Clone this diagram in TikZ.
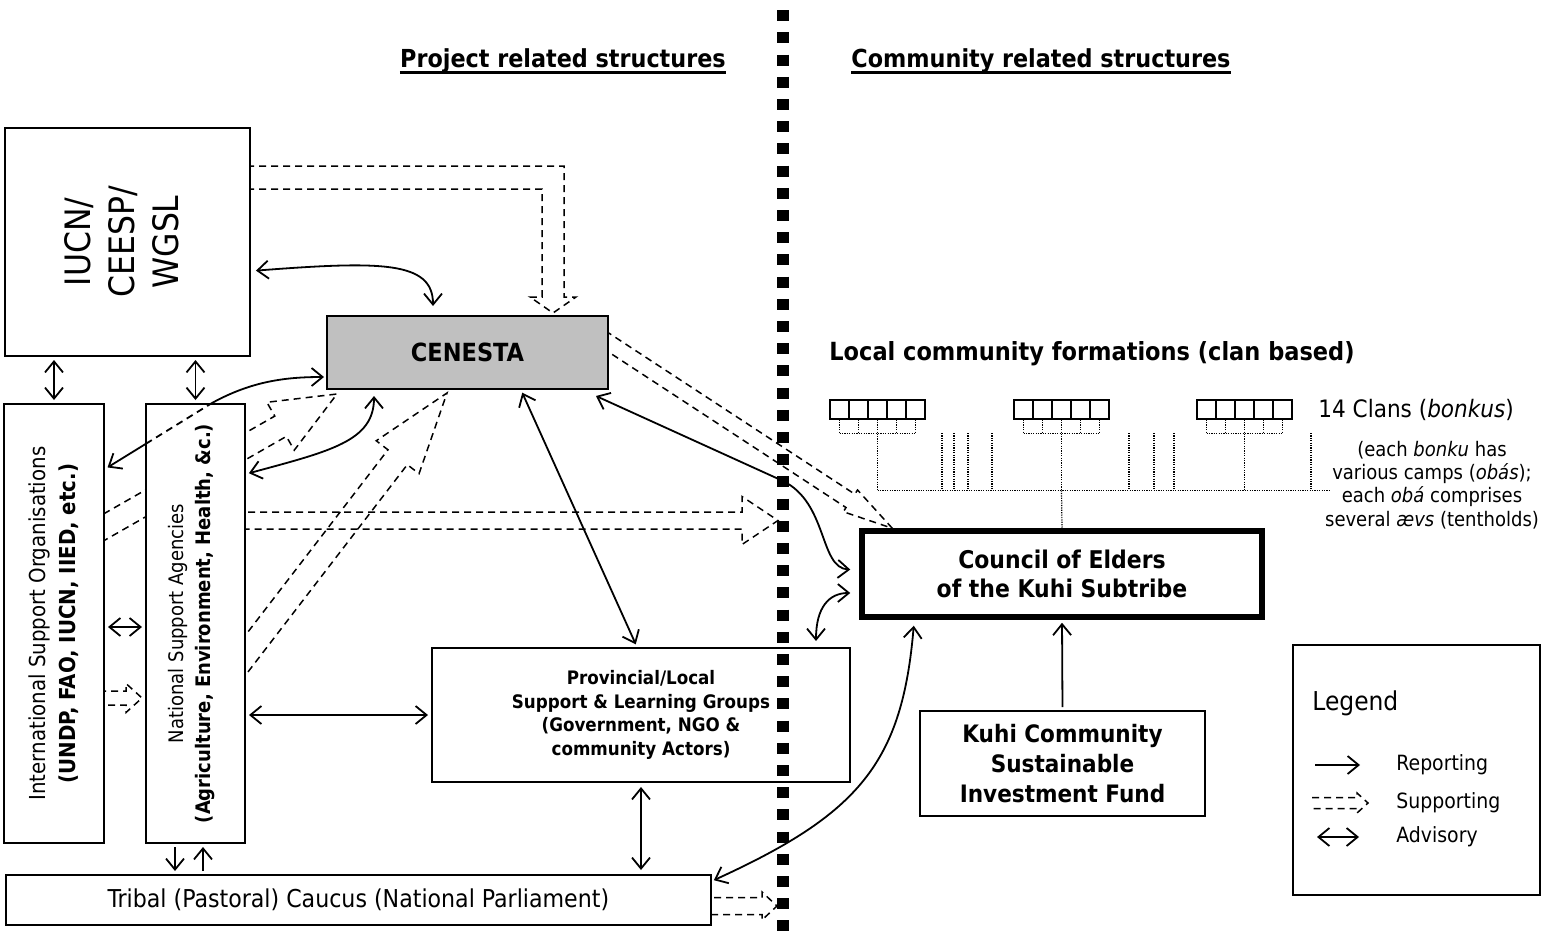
\documentclass[tikz,border=0pt]{standalone}
\usepackage{fontspec}
\setmainfont{DejaVu Sans Condensed}
\usetikzlibrary{arrows.meta,calc,backgrounds}
\definecolor{cengray}{HTML}{C0C0C0}

\tikzset{
  box/.style={draw, line width=1pt, fill=white, inner sep=0pt, align=center},
  rep/.style={line width=0.9pt, shorten >=1.5pt, shorten <=1.5pt},
  supp/.style={line width=0.75pt, dash pattern=on 3.5pt off 2.5pt},
  tree/.style={line width=0.6pt, dash pattern=on 0.6pt off 0.6pt},
  lab/.style={inner sep=0pt, align=center},
}

% hollow dashed "supporting" arrow: start, tip, shaft half width, head half width, head length
\newcommand{\supparrow}[5]{%
  \coordinate (sa) at (#1);
  \coordinate (sb) at (#2);
  \coordinate (sh) at ($(sb)!#5!(sa)$);
  \draw[supp] ($(sa)!#3!90:(sb)$) -- ($(sh)!#3!-90:(sa)$) -- ($(sh)!#4!-90:(sa)$)
    -- (sb) -- ($(sh)!#4!90:(sa)$) -- ($(sh)!#3!90:(sa)$) -- ($(sa)!#3!-90:(sb)$);
}

\begin{document}
\begin{tikzpicture}[x=0.5pt, y=-0.5pt, >={Straight Barb[length=5.5pt,width=9pt]}]
\useasboundingbox (0,0) rectangle (1542,942);

% headings
\node[lab, anchor=base, font=\bfseries\fontsize{12.4}{15}\selectfont] (projhead) at (563,67) {Project related structures};
\node[lab, anchor=base, font=\bfseries\fontsize{12.4}{15}\selectfont] (commhead) at (1041,67) {Community related structures};
\draw[line width=1.5pt] ($(projhead.base west)+(0,5)$) -- ($(projhead.base east)+(0,5)$);
\draw[line width=1.5pt] ($(commhead.base west)+(0,5)$) -- ($(commhead.base east)+(0,5)$);

% project side
\node[box, minimum width=122.5pt, minimum height=114pt] (iucn) at (127.5,242) {};
\node[lab, rotate=90, font=\fontsize{17.5}{22}\selectfont] (iucnlab) at ($(iucn)+(-6,0)$) {IUCN/\\CEESP/\\WGSL};
\node[box, fill=cengray, minimum width=140.5pt, minimum height=36.5pt, font=\bfseries\fontsize{12.5}{15}\selectfont] (cenesta) at (467.5,352.5) {CENESTA};
\node[box, minimum width=50pt, minimum height=219.5pt] (iso) at (54,623.5) {};
\node[lab, rotate=90, font=\fontsize{11}{15}\selectfont] (isolab) at (iso) {International Support Organisations\\\textbf{(UNDP, FAO, IUCN, IIED, etc.)}};
\node[box, minimum width=49.5pt, minimum height=219.5pt] (nsa) at (195.5,623.5) {};
\node[lab, rotate=90, font=\fontsize{10}{13.5}\selectfont] (nsalab) at ($(nsa)+(-4,0)$) {National Support Agencies\\\textbf{(Agriculture, Environment, Health, \&c.)}};
\node[box, minimum width=352.5pt, minimum height=25pt, font=\fontsize{12.3}{15}\selectfont] (tribal) at (358.5,900) {Tribal (Pastoral) Caucus (National Parliament)};
\node[box, minimum width=209pt, minimum height=67pt, font=\bfseries\fontsize{9.3}{11.7}\selectfont] (prov) at (641,715) {Provincial/Local\\Support \& Learning Groups\\(Government, NGO \&\\community Actors)};

% community side
\node[lab, anchor=west, font=\bfseries\fontsize{12.5}{15}\selectfont] (localhead) at (829,354) {Local community formations (clan based)};
\node[box, line width=2.75pt, minimum width=200pt, minimum height=43pt, font=\bfseries\fontsize{12.2}{14.5}\selectfont] (council) at (1062,574) {Council of Elders\\of the Kuhi Subtribe};
\node[box, minimum width=142.5pt, minimum height=52.5pt, font=\bfseries\fontsize{12}{15}\selectfont] (fund) at (1062.5,763.5) {Kuhi Community\\Sustainable\\Investment Fund};

% clans
\foreach \gx [count=\g] in {830,1014,1197}{
  \foreach \i in {0,...,4}{
    \node[draw, line width=1pt, minimum width=9.5pt, minimum height=9.5pt, inner sep=0pt] (clan\g\i) at (\gx+9.5+19*\i,409) {};
    \draw[tree] (clan\g\i.south) -- ++(0,14);
  }
  \draw[tree] ($(clan\g0.south)+(0,14)$) -- ($(clan\g4.south)+(0,14)$);
  \draw[tree] ($(clan\g2.south)+(0,14)$) -- ++(0,57);
}
\draw[tree] ($(clan12.south)+(0,71)$) -- ++(452,0);
\foreach \x in {942,954,968,992,1129,1154,1174,1311}
  \draw[tree] (\x,433) -- (\x,490);
\draw[tree] ($(clan22.south)+(0,71)$) -- (council.north);
\node[lab, anchor=west, font=\fontsize{12}{14}\selectfont] (clanlab) at (1318,410) {14 Clans (\textit{bonkus})};
\node[lab, font=\fontsize{10}{11.7}\selectfont] (clannote) at (1432,485) {(each \textit{bonku} has\\various camps (\textit{obás});\\each \textit{obá} comprises\\several \textit{ævs} (tentholds)};

% legend
\node[box, minimum width=123.5pt, minimum height=125pt] (legend) at (1416.5,770) {};
\node[lab, anchor=base west, font=\fontsize{13}{15}\selectfont] (legtitle) at (1312,710) {Legend};
\coordinate (legrepa) at (1312,765);
\coordinate (legrepb) at (1363,765);
\coordinate (legsupa) at (1312,803);
\coordinate (legsupb) at (1368,803);
\coordinate (legadva) at (1314,837);
\coordinate (legadvb) at (1362,837);
\node[lab, anchor=west, font=\fontsize{10.5}{12}\selectfont] (legrep) at (1396,765) {Reporting};
\node[lab, anchor=west, font=\fontsize{10.5}{12}\selectfont] (legsup) at (1396,803) {Supporting};
\node[lab, anchor=west, font=\fontsize{10.5}{12}\selectfont] (legadv) at (1396,837) {Advisory};
\draw[rep, ->] (legrepa) -- (legrepb);
\draw[rep, <->] (legadva) -- (legadvb);
\supparrow{legsupa}{legsupb}{2.75pt}{5pt}{5.5pt}

\coordinate (commside) at (778,520.5);
\coordinate (tribside) at (777,906);

\begin{scope}[on background layer]
  % supporting
  \draw[supp] ($(iucn.north east)+(-4,39)$) -- ++(317,0) -- ++(0,131) -- ++(12,0) -- ++(-23,16)
    -- ++(-23,-16) -- ++(12,0) -- ++(0,-108) -- ++(-295,0);
  \supparrow{$(iso.north east)+(-6,127)$}{$(cenesta.south west)+(11,4)$}{5.85pt}{13.8pt}{32.5pt}
  \supparrow{$(nsa.east)+(-10,44)$}{$(cenesta.south west)+(121,3)$}{6.1pt}{13.5pt}{40.5pt}
  \supparrow{$(nsa.east)+(-10,-103)$}{commside}{4.25pt}{12pt}{18pt}
  \supparrow{$(cenesta.east)+(-8,-15)$}{$(council.north west)+(33,0)$}{4pt}{6.5pt}{25pt}
  \supparrow{$(tribal.east)+(-10,6)$}{tribside}{4.25pt}{7pt}{7.5pt}
  \supparrow{$(iso.east)+(-6,74.5)$}{$(nsa.west)+(-3,74.5)$}{3.5pt}{7.25pt}{8pt}
  % reporting and advisory
  \draw[rep, <->, shorten <=2.5pt, shorten >=4.5pt] ($(iucn.north east)+(0,144)$) .. controls +(130,-10) and +(0,-54) .. ($(cenesta.north west)+(107,0)$);
  \draw[rep, <->] (iso.north |- iucn.south) -- (iso.north);
  \draw[rep, <->] (nsa.north |- iucn.south) -- (nsa.north);
  \draw[rep, <->] ($(iso.east)+(0,3.5)$) -- ($(nsa.west)+(0,3.5)$);
  \draw[rep, <->] (nsa.east |- prov.west) -- (prov.west);
  \draw[rep, ->] ($(nsa.south)+(-20.5,0)$) -- ($(nsa.south |- tribal.north)+(-20.5,0)$);
  \draw[rep, ->] ($(nsa.south |- tribal.north)+(7.5,0)$) -- ($(nsa.south)+(7.5,0)$);
  \draw[rep, <->, shorten <=2pt, shorten >=2pt] (prov.south) -- (prov.south |- tribal.north);
  \draw[rep, <->] ($(cenesta.south west)+(195,0)$) -- ($(prov.north west)+(206,0)$);
  \draw[rep, <->, shorten <=0pt, shorten >=4.5pt] ($(cenesta.south east)+(-13,6)$) -- ++(187,85) .. controls +(45,22) and +(-40,-2) .. ($(council.west)+(0,-4)$);
  \draw[rep, <->, shorten <=3pt, shorten >=4.5pt] ($(prov.north east)+(-35,0)$) .. controls +(0,-40) and +(-30,0) .. ($(council.west)+(0,19)$);
  \draw[rep, <->, shorten <=1pt, shorten >=3pt] ($(tribal.north east)+(0,7)$) .. controls +(147,-67) and +(-12,143) .. ($(council.south west)+(55,0)$);
  \draw[rep, <->, shorten >=3pt] ($(nsa.north east)+(0,71)$) .. controls +(85,-23) and +(0,51) .. ($(cenesta.south west)+(48,0)$);
  \draw[rep, <->, shorten >=1pt] ($(iso.north east)+(0,66)$) -- ++(107,-66) .. controls +(40,-22) and +(-40,0) .. ($(cenesta.west)+(0,24.5)$);
  \draw[rep, ->] (fund.north) -- (council.south);
\end{scope}

% the ISO-CENESTA link seen through the NSA box
\begin{scope}
  \clip (nsa.north west) rectangle (nsa.south east);
  \draw[line width=0.9pt, dash pattern=on 3.5pt off 2.5pt] ($(iso.north east)+(0,66)$) -- ++(107,-66) .. controls +(40,-22) and +(-40,0) .. ($(cenesta.west)+(0,24.5)$);
\end{scope}

% divider
\draw[line width=5.75pt, dash pattern=on 5.5pt off 5.6pt] (783,-12) -- (783,960);
\end{tikzpicture}
\end{document}
